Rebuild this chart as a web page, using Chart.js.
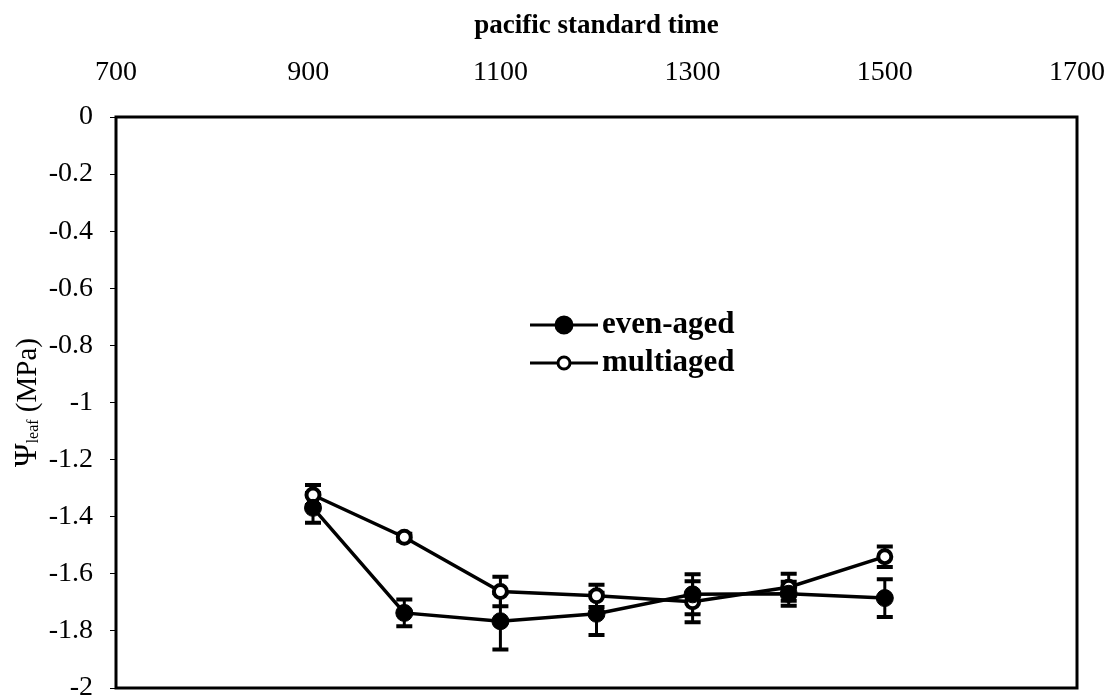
<!DOCTYPE html>
<html>
<head>
<meta charset="utf-8">
<script src="https://cdn.jsdelivr.net/npm/chart.js@4/dist/chart.umd.min.js"></script>
<style>
  html, body { margin: 0; padding: 0; background: #fff; }
  canvas { display: block; }
</style>
</head>
<body>
<canvas id="chart" width="1112" height="700"></canvas>
<script>
// Leaf water potential through the day, two stand types
const times = [905, 1000, 1100, 1200, 1300, 1400, 1500];
const evenAged = [-1.369, -1.737, -1.766, -1.740, -1.672, -1.670, -1.685];
const evenAgedErr = [0.052, 0.047, 0.099, 0.074, 0.070, 0.042, 0.066];
const multiaged = [-1.324, -1.472, -1.662, -1.677, -1.698, -1.647, -1.540];
const multiagedErr = [0.035, 0.012, 0.052, 0.039, 0.072, 0.047, 0.036];
const seriesNames = ['even-aged', 'multiaged'];
const xTicks = [700, 900, 1100, 1300, 1500, 1700];
const yTicks = [0, -0.2, -0.4, -0.6, -0.8, -1, -1.2, -1.4, -1.6, -1.8, -2];

const SERIF = '"Liberation Serif", "DejaVu Serif", "Times New Roman", serif';

// Vertical error bars with flat caps, drawn under the markers
const errorBars = {
  id: 'errorBars',
  beforeDatasetsDraw(chart) {
    const { ctx, scales: { x, y } } = chart;
    ctx.save();
    ctx.strokeStyle = '#000';
    chart.data.datasets.forEach(ds => {
      ds.data.forEach((p, i) => {
        const e = ds.errors[i];
        const px = x.getPixelForValue(p.x);
        const yt = y.getPixelForValue(p.y + e);
        const yb = y.getPixelForValue(p.y - e);
        ctx.lineWidth = 3;
        ctx.beginPath();
        ctx.moveTo(px, yt);
        ctx.lineTo(px, yb);
        ctx.stroke();
        ctx.lineWidth = 4;
        ctx.beginPath();
        ctx.moveTo(px - 8, yt);
        ctx.lineTo(px + 8, yt);
        ctx.moveTo(px - 8, yb);
        ctx.lineTo(px + 8, yb);
        ctx.stroke();
      });
    });
    ctx.restore();
  }
};

// Box around the plotting area
const frame = {
  id: 'frame',
  beforeDatasetsDraw(chart) {
    const { ctx, chartArea: a } = chart;
    ctx.save();
    ctx.strokeStyle = '#000';
    ctx.lineWidth = 3;
    ctx.strokeRect(a.left, a.top, a.right - a.left, a.bottom - a.top);
    ctx.restore();
  }
};

// Y axis title with subscript "leaf"
const yTitle = {
  id: 'yTitle',
  afterDraw(chart) {
    const { ctx, chartArea: a } = chart;
    const parts = [
      { t: '\u03A8', f: '32px ' + SERIF, dy: 0 },
      { t: 'leaf', f: '16px ' + SERIF, dy: 6 },
      { t: ' (MPa)', f: '29px ' + SERIF, dy: 0 }
    ];
    ctx.save();
    let total = 0;
    parts.forEach(p => { ctx.font = p.f; p.w = ctx.measureText(p.t).width; total += p.w; });
    ctx.translate(28, (a.top + a.bottom) / 2);
    ctx.rotate(-Math.PI / 2);
    ctx.fillStyle = '#000';
    ctx.textBaseline = 'middle';
    ctx.textAlign = 'left';
    let cx = -total / 2;
    parts.forEach(p => {
      ctx.font = p.f;
      ctx.fillText(p.t, cx, p.dy);
      cx += p.w;
    });
    ctx.restore();
  }
};

// Legend: line sample with marker, then the series name
const legendBox = {
  id: 'legendBox',
  afterDraw(chart) {
    const { ctx, chartArea: a } = chart;
    const x0 = a.left + 414, x1 = a.left + 482, xm = (x0 + x1) / 2;
    const rows = [a.top + 208, a.top + 246];
    ctx.save();
    chart.data.datasets.forEach((ds, i) => {
      const yy = rows[i];
      ctx.strokeStyle = '#000';
      ctx.lineWidth = 3;
      ctx.beginPath();
      ctx.moveTo(x0, yy);
      ctx.lineTo(x1, yy);
      ctx.stroke();
      ctx.beginPath();
      ctx.arc(xm, yy, i === 0 ? 8 : 6, 0, Math.PI * 2);
      ctx.fillStyle = ds.pointBackgroundColor;
      ctx.fill();
      ctx.lineWidth = 3;
      ctx.stroke();
      ctx.fillStyle = '#000';
      ctx.font = 'bold 31px ' + SERIF;
      ctx.textBaseline = 'middle';
      ctx.textAlign = 'left';
      ctx.fillText(ds.label, x1 + 4, yy);
    });
    ctx.restore();
  }
};

new Chart(document.getElementById('chart'), {
  type: 'line',
  data: {
    datasets: [
      {
        label: seriesNames[0],
        data: times.map((t, i) => ({ x: t, y: evenAged[i] })),
        errors: evenAgedErr,
        borderColor: '#000',
        borderWidth: 3.5,
        pointRadius: 8.5,
        pointBackgroundColor: '#000',
        pointBorderColor: '#000',
        pointBorderWidth: 1,
        tension: 0
      },
      {
        label: seriesNames[1],
        data: times.map((t, i) => ({ x: t, y: multiaged[i] })),
        errors: multiagedErr,
        borderColor: '#000',
        borderWidth: 3.5,
        pointRadius: 6.5,
        pointBackgroundColor: '#fff',
        pointBorderColor: '#000',
        pointBorderWidth: 4,
        tension: 0
      }
    ]
  },
  options: {
    responsive: false,
    animation: false,
    devicePixelRatio: 1,
    layout: { padding: { left: 0, right: 35, top: 0, bottom: 12 } },
    plugins: {
      legend: { display: false },
      tooltip: { enabled: false }
    },
    scales: {
      x: {
        type: 'linear',
        position: 'top',
        min: 700,
        max: 1700,
        afterBuildTicks(s) { s.ticks = xTicks.map(v => ({ value: v })); },
        afterFit(s) { s.height = 117; s.paddingLeft = 0; s.paddingRight = 0; },
        grid: { display: false, drawTicks: false },
        border: { display: false },
        ticks: {
          color: '#000',
          padding: 28,
          maxRotation: 0,
          callback: v => String(v),
          font: { family: SERIF, size: 28 }
        },
        title: {
          display: true,
          text: 'pacific standard time',
          color: '#000',
          padding: { top: 10, bottom: 0 },
          font: { family: SERIF, size: 27, weight: 'bold' }
        }
      },
      y: {
        type: 'linear',
        min: -2,
        max: 0,
        afterBuildTicks(s) { s.ticks = yTicks.map(v => ({ value: v })); },
        afterFit(s) { s.width = 116; s.paddingTop = 0; s.paddingBottom = 0; },
        grid: {
          drawOnChartArea: false,
          drawTicks: true,
          tickLength: 6,
          color: '#000',
          lineWidth: 1
        },
        border: { display: false },
        ticks: {
          color: '#000',
          padding: 17,
          callback: v => String(v),
          font: { family: SERIF, size: 28 }
        }
      }
    }
  },
  plugins: [frame, errorBars, yTitle, legendBox]
});
</script>
</body>
</html>
